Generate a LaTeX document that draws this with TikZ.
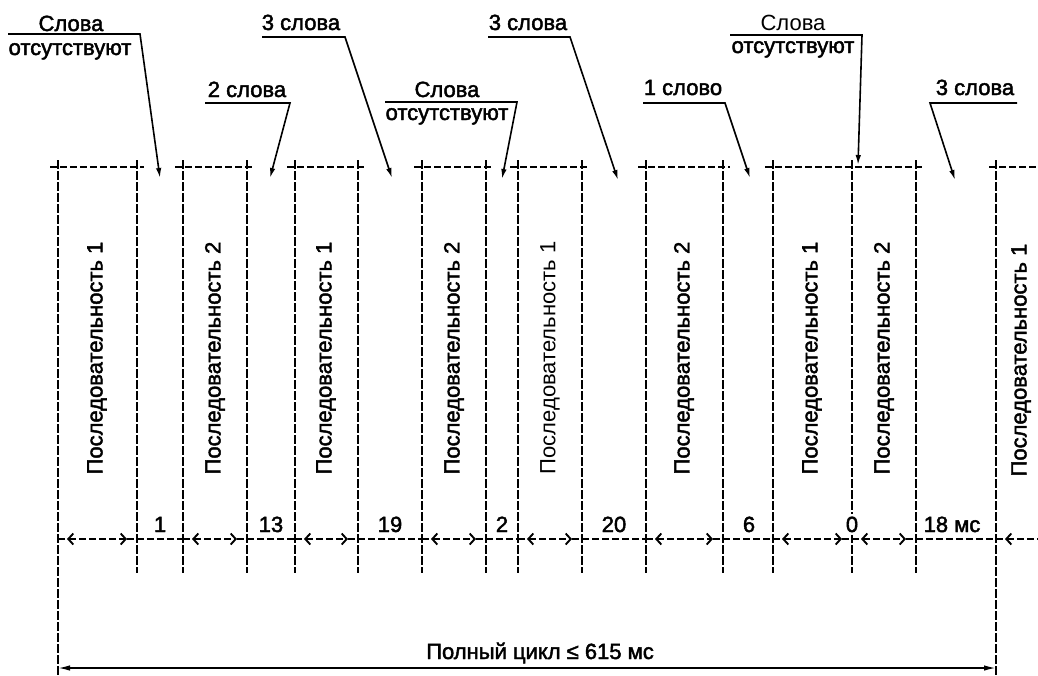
\documentclass[tikz,border=0pt]{standalone}
\usepackage{fontspec}
\setmainfont{Liberation Sans}
\newfontfamily\heavyfont[FakeBold=2]{Liberation Sans}
\usetikzlibrary{arrows.meta}
\begin{document}
\begin{tikzpicture}[x=1pt,y=-1pt,
  vline/.style={line width=2pt, dash pattern=on 9pt off 2pt},
  hline/.style={line width=2.5pt, dash pattern=on 7pt off 3pt},
  dim/.style={line width=2pt, dash pattern=on 7pt off 3pt},
  barb/.tip={Straight Barb[length=5pt,width=11pt,line width=1.9pt]},
  dimarr/.style={dim, barb-barb},
  lbl/.style={line width=1.6pt, -{Latex[length=10pt,width=5.5pt]}},
  total/.style={line width=1.6pt, {Latex[length=12pt,width=5.5pt]}-{Latex[length=12pt,width=5.5pt]}},
  txt/.style={font=\heavyfont\fontsize{22}{24}\selectfont, inner sep=0pt},
  lighttxt/.style={font=\fontsize{22}{24}\selectfont, inner sep=0pt},
  seqtxt/.style={txt, rotate=90},
]
\useasboundingbox (0,0) rectangle (1038,675);

% positions of the vertical lines
\foreach \i/\x in {0/58,1/137,2/183,3/247,4/295,5/358,6/422,7/486,8/518,9/582,10/646,11/723,12/773,13/852,14/916,15/996}{
  \coordinate (t\i) at (\x,160);
  \coordinate (h\i) at (\x,167);
  \coordinate (m\i) at (\x,539);
  \coordinate (b\i) at (\x,573);
}
\coordinate (bot0) at (58,675);
\coordinate (bot15) at (996,675);
\coordinate (hR) at (1038,167);
\coordinate (mR) at (1038,539);
\coordinate (ar0) at (58,668);
\coordinate (ar15) at (996,668);

% vertical lines
\foreach \i in {1,...,14}{ \draw[vline] (t\i) -- (b\i); }
\draw[vline] (t0) -- (bot0);
\draw[vline] (t15) -- (bot15);

% top horizontal dashes
\foreach \a/\b in {0/1,2/3,4/5,6/7,8/9,10/11,12/14}{
  \draw[hline] ([xshift=-8pt]h\a) -- ([xshift=7pt]h\b);
}
\draw[hline] ([xshift=-7pt]h15) -- (hR);

% middle row: boxes with double arrows
\foreach \a/\b in {0/1,2/3,4/5,6/7,8/9,10/11,12/13,13/14}{
  \draw[dim] (m\a) -- ([xshift=9pt]m\a);
  \draw[dimarr] ([xshift=9pt]m\a) -- ([xshift=-10pt]m\b);
  \draw[dim] ([xshift=-10pt]m\b) -- (m\b);
}
% gaps
\foreach \a/\b in {1/2,3/4,5/6,7/8,9/10,11/12,14/15}{
  \draw[dim] (m\a) -- (m\b);
}
\draw[dim] (m15) -- ([xshift=9pt]m15);
\draw[dim, barb-] ([xshift=9pt]m15) -- (mR);

% sequence texts
\node[seqtxt] (s1) at (97,358) {Последовательность 1};
\node[seqtxt] (s2) at (215,358) {Последовательность 2};
\node[seqtxt] (s3) at (326,358) {Последовательность 1};
\node[seqtxt] (s4) at (454,358) {Последовательность 2};
\node[lighttxt, rotate=90] (s5) at (550,358) {Последовательность 1};
\node[seqtxt] (s6) at (684,358) {Последовательность 2};
\node[seqtxt] (s7) at (812,358) {Последовательность 1};
\node[seqtxt] (s8) at (884,358) {Последовательность 2};
\node[seqtxt] (s9) at (1021,360) {Последовательность 1};

% gap numbers
\node[txt, anchor=base] (n1) at (160,532) {1};
\node[txt, anchor=base] (n2) at (271,532) {13};
\node[txt, anchor=base] (n3) at (390,532) {19};
\node[txt, anchor=base] (n4) at (502,532) {2};
\node[txt, anchor=base] (n5) at (614,532) {20};
\node[txt, anchor=base] (n6) at (749,532) {6};
\node[txt, anchor=base, fill=white, inner xsep=2pt, inner ysep=3pt] (n7) at (852,532) {0};
\node[txt, anchor=base] (n8) at (952,532) {18 мс};

% labels above
\node[txt, anchor=base] (a1) at (71,31) {Слова};
\node[txt, anchor=base] (a1b) at (70,55) {отсутствуют};
\coordinate (u1a) at (8,34); \coordinate (u1b) at (140,34); \coordinate (p1) at (160,178);
\draw[lbl] (u1a) -- (u1b) -- (p1);

\node[txt, anchor=base] (a2) at (247,97) {2 слова};
\coordinate (u2a) at (205,103); \coordinate (u2b) at (290,103); \coordinate (p2) at (270,178);
\draw[lbl] (u2a) -- (u2b) -- (p2);

\node[txt, anchor=base] (a3) at (301,30) {3 слова};
\coordinate (u3a) at (262,37); \coordinate (u3b) at (345,37); \coordinate (p3) at (392,178);
\draw[lbl] (u3a) -- (u3b) -- (p3);

\node[txt, anchor=base] (a4) at (447,97) {Слова};
\node[txt, anchor=base] (a4b) at (447,120) {отсутствуют};
\coordinate (u4a) at (385,102); \coordinate (u4b) at (517,102); \coordinate (p4) at (502,179);
\draw[lbl] (u4a) -- (u4b) -- (p4);

\node[txt, anchor=base] (a5) at (528,30) {3 слова};
\coordinate (u5a) at (488,37); \coordinate (u5b) at (570,37); \coordinate (p5) at (618,180);
\draw[lbl] (u5a) -- (u5b) -- (p5);

\node[txt, anchor=base] (a6) at (683,95) {1 слово};
\coordinate (u6a) at (643,103); \coordinate (u6b) at (725,103); \coordinate (p6) at (750,178);
\draw[lbl] (u6a) -- (u6b) -- (p6);

\node[lighttxt, anchor=base] (a7) at (793,30) {Слова};
\node[txt, anchor=base] (a7b) at (793,53) {отсутствуют};
\coordinate (u7a) at (730,35); \coordinate (u7b) at (862,35); \coordinate (p7) at (858,165);
\draw[lbl] (u7a) -- (u7b) -- (p7);

\node[txt, anchor=base] (a8) at (975,95) {3 слова};
\coordinate (u8a) at (1017,103); \coordinate (u8b) at (930,103); \coordinate (p8) at (955,180);
\draw[lbl] (u8a) -- (u8b) -- (p8);

% total cycle
\node[txt, anchor=base] (tot) at (540,659) {Полный цикл ≤ 615 мс};
\draw[total] (ar0) -- (ar15);
\end{tikzpicture}
\end{document}
